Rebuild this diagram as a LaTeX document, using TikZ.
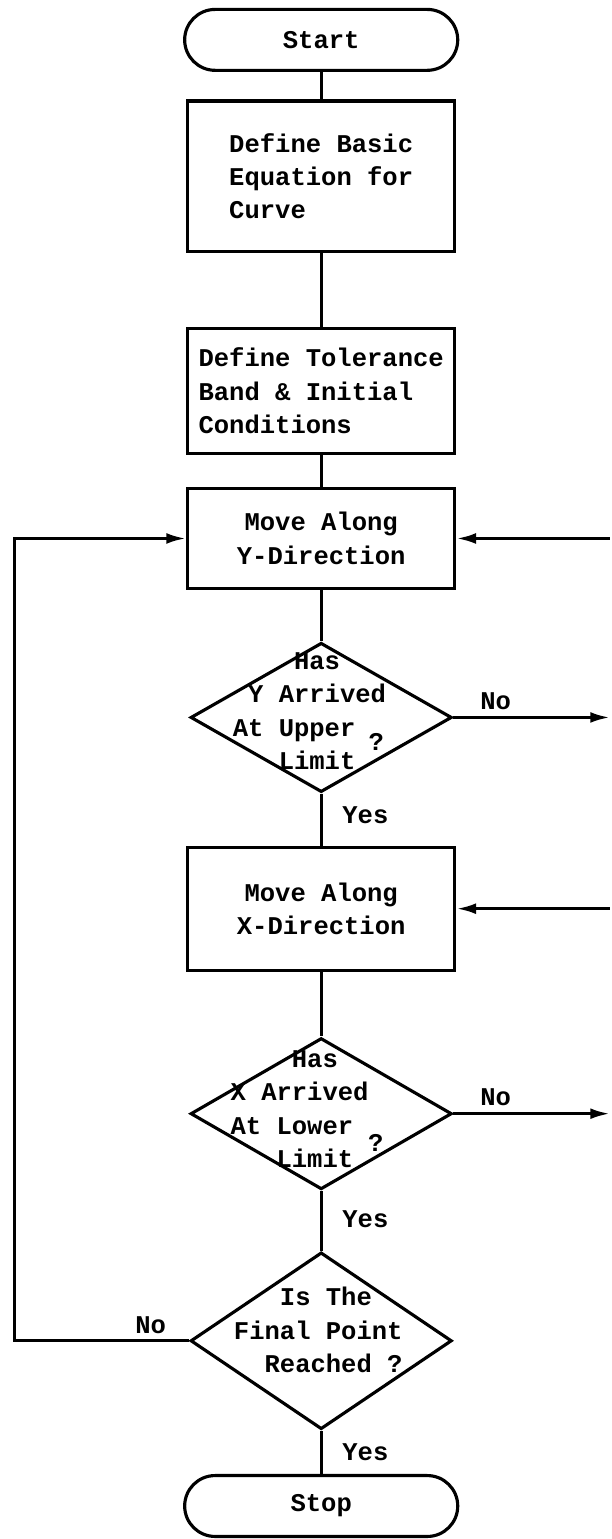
\documentclass[tikz,border=0pt]{standalone}
\usepackage{fontspec}
\setmonofont{Liberation Mono}
\usepackage{tikz}
\usetikzlibrary{arrows.meta, positioning, shapes.geometric}

\begin{document}
\begin{tikzpicture}[
    every node/.style={font=\ttfamily\bfseries\fontsize{13}{17}\selectfont},
    term/.style  ={rectangle, rounded corners=15.5pt, draw, line width=1.6pt, minimum width=139pt, minimum height=31pt},
    proc/.style  ={rectangle, draw, line width=1.6pt, align=left, minimum width=136pt},
    decis/.style ={diamond, draw, line width=1.6pt, minimum width=133pt, inner sep=0pt},
    dtext/.style ={align=left, inner sep=0pt},
    lbl/.style   ={inner sep=1pt},
    line/.style  ={line width=1.6pt},
    arrow/.style ={-{Latex[length=10pt, width=5.5pt]}, line width=1.6pt}
]
\node[term] (start) {Start};
\node[proc, below=14pt of start, minimum height=76.5pt] (basic) {Define Basic\\Equation for\\Curve};
\node[proc, below=37.5pt of basic, minimum height=64pt] (band) {Define Tolerance\\Band \& Initial\\Conditions};
\node[proc, below=16pt of band, minimum height=51pt, align=center] (ymove) {Move Along\\Y-Direction};
\node[decis, below=26pt of ymove, minimum height=76pt] (ydec) {};
\node[proc, below=26.5pt of ydec, minimum height=62.5pt, align=center] (xmove) {Move Along\\X-Direction};
\node[decis, below=33pt of xmove, minimum height=77pt] (xdec) {};
\node[decis, below=30.5pt of xdec, minimum height=90pt] (fdec) {};
\node[term, below=22pt of fdec] (stop) {Stop};
% texts of the decisions
\node[dtext] (ytxt) at ([xshift=-6pt, yshift=3.25pt]ydec.center) {\hphantom{0000}Has\\\hphantom{0}Y Arrived\\At Upper\\\hphantom{000}Limit};
\node[dtext] (yq) at ([xshift=28pt, yshift=-12.5pt]ydec.center) {?};
\node[dtext] (xtxt) at ([xshift=-11pt, yshift=2.25pt]xdec.center) {\hphantom{0000}Has\\X Arrived\\At Lower\\\hphantom{000}Limit};
\node[dtext] (xq) at ([xshift=27.75pt, yshift=-14.75pt]xdec.center) {?};
\node[dtext] (ftxt) at ([xshift=-1.5pt, yshift=5.5pt]fdec.center) {\hphantom{000}Is The\\Final Point\\\hphantom{00}Reached ?};
% loose ends at the picture's edges
\coordinate (lft) at ([xshift=-156pt]fdec.center);
\coordinate (rty) at ([xshift=147pt]ymove.center);
\coordinate (rtyd) at ([xshift=147pt]ydec.center);
\coordinate (rtx) at ([xshift=147pt]xmove.center);
\coordinate (rtxd) at ([xshift=147pt]xdec.center);
\useasboundingbox ([xshift=-163.5pt, yshift=4pt]start.north) rectangle ([xshift=148pt, yshift=-0.5pt]stop.south);
\draw[line] (start) -- (basic);
\draw[line] (basic) -- (band);
\draw[line] (band) -- (ymove);
\draw[line] (ymove) -- (ydec);
\draw[line] (ydec) -- (xmove) node[lbl, pos=.42, right=9pt] (yes1) {Yes};
\draw[line] (xmove) -- (xdec);
\draw[line] (xdec) -- (fdec) node[lbl, pos=.48, right=9pt] (yes2) {Yes};
\draw[line] (fdec) -- (stop) node[lbl, pos=.5, right=9pt] (yes3) {Yes};
\draw[arrow] (ydec.east) -- (rtyd) node[lbl, pos=.27, above=2pt] (no1) {No};
\draw[arrow] (xdec.east) -- (rtxd) node[lbl, pos=.27, above=2pt] (no2) {No};
\draw[arrow] (rty) -- (ymove.east);
\draw[arrow] (rtx) -- (xmove.east);
\draw[arrow] (fdec.west) -- (lft) node[lbl, pos=.22, above=2pt] (no3) {No} |- (ymove.west);
\end{tikzpicture}
\end{document}
